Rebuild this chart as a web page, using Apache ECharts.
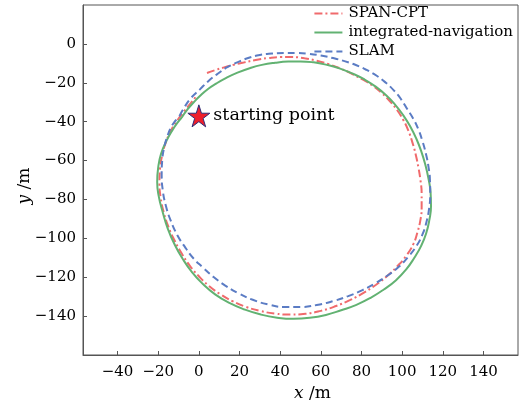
<!DOCTYPE html>
<html>
<head>
<meta charset="utf-8">
<script src="https://cdn.jsdelivr.net/npm/echarts@6/dist/echarts.min.js"></script>
<style>
  html, body { margin: 0; padding: 0; background: #fff; }
  #chart { width: 522px; height: 407px; }
</style>
</head>
<body>
<div id="chart"></div>
<script>
// Trajectory of the test loop, in metres: [x, y]
const seriesNames = ['SPAN-CPT', 'integrated-navigation', 'SLAM'];

const spanCpt = [
  [4,-15],[8,-13.5],[12,-12.2],[17,-10.8],[22,-9.6],[28,-8.3],[34,-7.3],[40,-6.8],[46,-6.8],
  [52,-7.4],[58,-8.7],[64,-10.5],[70,-12.8],[75.5,-15.5],[80.5,-18.3],[85.5,-21.5],[90,-25.3],
  [94,-29.5],[97.5,-34],[100.5,-39],[103,-44.5],[105,-50.5],[106.7,-57],[108,-63.5],[109,-70],
  [109.6,-77],[109.6,-84],[109,-90.5],[107.5,-97],[105.5,-103],[102,-109],[97.5,-114.5],
  [92.5,-119.5],[87,-124],[81,-128],[74.5,-131.7],[67.5,-134.8],[60,-137.3],[52.5,-138.8],
  [45,-139.2],[37.5,-138.7],[30,-137.3],[23,-135.2],[16.5,-132.3],[10.5,-128.7],[5,-124.5],
  [0,-119.5],[-4.5,-114],[-8.5,-107.7],[-12,-101],[-15,-94],[-17.3,-86.5],[-18.8,-79],
  [-19.4,-71.5],[-19.1,-64],[-18,-57],[-16.2,-50.5],[-13.7,-44.5],[-10.7,-39.5],[-7.5,-35],
  [-4,-30.5],[-1,-26.5]
];

const integratedNav = [
  [-8.5,-38],[-5.5,-33.6],[-2.5,-30],[0.5,-26.8],[4.5,-23.2],[8.7,-20.3],[13.5,-17.5],[19,-14.8],
  [25,-12.5],[31,-10.8],[37.5,-9.7],[44,-9.1],[50,-9],[56.5,-9.5],[63,-10.8],[69.5,-12.7],
  [75.5,-15.2],[81.5,-18.3],[87,-22],[92,-26.3],[96.5,-31.2],[100.5,-36.6],[104,-42.5],
  [107,-48.8],[109.5,-55.5],[111.5,-62.5],[113,-69.5],[114,-76.5],[114.2,-83.5],[113.4,-90.5],
  [111.8,-97.5],[109.3,-104],[106,-110],[102,-116],[97,-121.5],[91,-126.3],[84.5,-130.6],
  [77.5,-134.2],[70,-137],[62.5,-139.4],[54.5,-140.9],[46.5,-141.4],[38.5,-140.8],[30.5,-139.2],
  [22.5,-136.6],[15,-133.2],[8,-128.8],[2,-123.5],[-3.3,-117.5],[-8,-110.5],[-12,-103],
  [-15.3,-95],[-17.8,-86.5],[-19.8,-78],[-20.5,-71],[-20,-63.5],[-18.6,-56.5],[-16,-50],
  [-12.8,-44],[-10.5,-40.5],[-8.5,-38]
];

const slam = [
  [-9.5,-37],[-7.7,-33.6],[-4,-28],[0.5,-23.4],[4.5,-19.3],[8.7,-15.8],[14,-12],[20,-9],[25,-7],
  [30,-5.7],[36,-5],[42,-4.7],[48,-4.7],[54,-5.1],[60,-6],[66,-7.3],[72,-9],[77.5,-11],
  [82.5,-13.4],[87.5,-16.4],[92,-20],[96,-24],[99.5,-28.5],[102.5,-33.5],[105.5,-38.5],
  [108,-44],[110,-50],[111.7,-56.5],[113,-63.5],[113.7,-70.5],[113.8,-77.5],[113.3,-84.5],
  [112,-91.5],[110,-98],[107,-104],[103,-109.5],[98.5,-114.5],[93,-119],[87,-123],
  [80.5,-126.6],[73.5,-129.7],[66,-132.3],[58,-134.3],[50,-135.3],[42,-135.3],[34,-134],
  [26.5,-131.6],[19.5,-128.3],[13,-124.3],[7,-119.7],[2,-115],[-2.5,-110.5],[-6.5,-105],
  [-10.5,-98.5],[-13.8,-91],[-16.3,-83],[-17.8,-75],[-18.3,-67],[-18,-59.5],[-17,-53],
  [-15.5,-47.5],[-13.5,-42.5],[-11.5,-39.5],[-9.5,-37]
];

const startPoint = [0, -37];
const startLabel = 'starting point';

const xTicks = [-40, -20, 0, 20, 40, 60, 80, 100, 120, 140];
const yTicks = [0, -20, -40, -60, -80, -100, -120, -140];

const serif = 'DejaVu Serif';
const textColor = '#000';
const starPath = 'path://M50,0 L61.2,34.5 L97.6,34.5 L68.2,55.9 L79.4,90.5 L50,69.1 L20.6,90.5 L31.8,55.9 L2.4,34.5 L38.8,34.5 Z';

// Typeset negative numbers with a true minus sign
const minusFmt = v => String(v).replace('-', '\u2212');

const chart = echarts.init(document.getElementById('chart'), null, { renderer: 'canvas' });

const axisCommon = {
  type: 'value',
  axisLine: { show: true, onZero: false, lineStyle: { color: '#555', width: 1 } },
  axisTick: { show: true, inside: true, length: 4, lineStyle: { color: '#555' } },
  splitLine: { show: false },
  axisLabel: { color: textColor, fontFamily: serif, fontSize: 15, formatter: minusFmt }
};

const nameStyle = (padding) => ({
  color: textColor, fontFamily: serif, fontSize: 17, padding: padding,
  rich: { i: { fontStyle: 'italic', fontFamily: serif, fontSize: 17, color: textColor } }
});

chart.setOption({
  animation: false,
  backgroundColor: '#fff',
  grid: {
    left: 83, right: 4, top: 5, bottom: 49,
    show: true, borderColor: '#555', borderWidth: 1
  },
  legend: {
    data: seriesNames,
    orient: 'vertical',
    right: 9, top: 6,
    padding: 0,
    itemWidth: 28, itemHeight: 13, itemGap: 4,
    // legend samples are plain line strokes, without the point marker
    itemStyle: { opacity: 0 },
    textStyle: { color: textColor, fontFamily: serif, fontSize: 15, padding: [0, 0, 0, 1] }
  },
  xAxis: Object.assign({}, axisCommon, {
    min: -57, max: 157,
    axisTick: Object.assign({}, axisCommon.axisTick, { customValues: xTicks }),
    axisLabel: Object.assign({}, axisCommon.axisLabel, { customValues: xTicks, margin: 10 }),
    name: '{i|x} /m',
    nameLocation: 'middle',
    nameGap: 30,
    nameMoveOverlap: false,
    nameTextStyle: nameStyle([0, 0, 0, 24])
  }),
  yAxis: Object.assign({}, axisCommon, {
    min: -160, max: 20, interval: 20,
    axisTick: Object.assign({}, axisCommon.axisTick, { customValues: yTicks }),
    axisLabel: Object.assign({}, axisCommon.axisLabel, { customValues: yTicks, margin: 7 }),
    name: '{i|y} /m',
    nameLocation: 'middle',
    nameGap: 50,
    nameMoveOverlap: false,
    nameTextStyle: nameStyle([0, 12, 0, 0])
  }),
  series: [
    {
      name: seriesNames[0], type: 'line', data: spanCpt, symbol: 'none', smooth: true,
      lineStyle: { color: '#f06a6c', width: 2, type: [8, 3, 2, 3] },
      itemStyle: { color: '#f06a6c' }
    },
    {
      name: seriesNames[1], type: 'line', data: integratedNav, symbol: 'none', smooth: true,
      lineStyle: { color: '#62b272', width: 2, type: 'solid' },
      itemStyle: { color: '#62b272' }
    },
    {
      name: seriesNames[2], type: 'line', data: slam, symbol: 'none', smooth: true,
      lineStyle: { color: '#5b7cc4', width: 2, type: [7, 4] },
      itemStyle: { color: '#5b7cc4' }
    },
    {
      name: startLabel, type: 'scatter', data: [startPoint], z: 5,
      symbol: starPath, symbolSize: 22,
      itemStyle: { color: '#ee1f2b', borderColor: '#2e2e78', borderWidth: 1, opacity: 1 },
      label: {
        show: true, position: 'right', distance: 3,
        formatter: startLabel,
        color: textColor, fontFamily: serif, fontSize: 17.5
      }
    }
  ]
});
</script>
</body>
</html>
